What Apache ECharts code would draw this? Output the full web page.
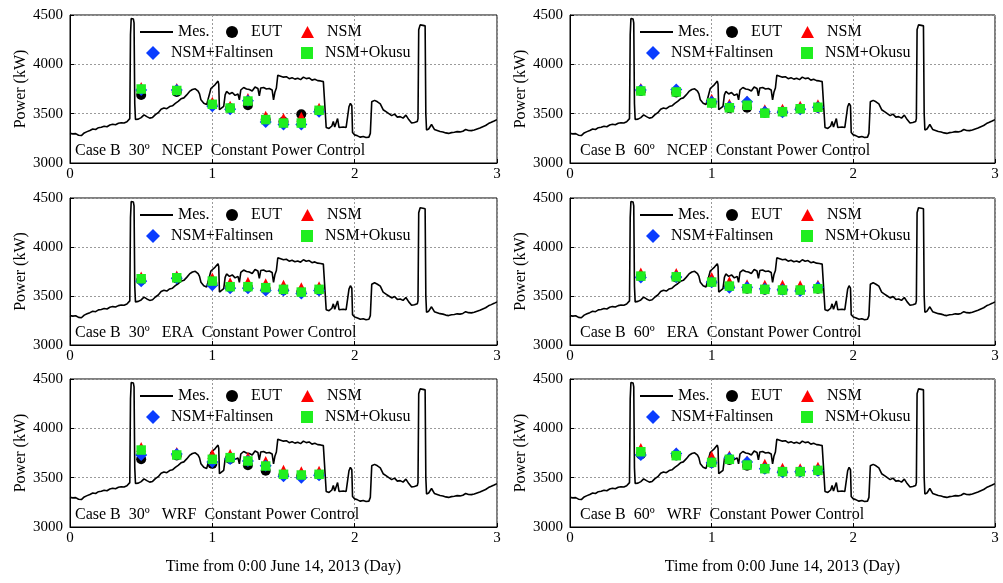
<!DOCTYPE html>
<html>
<head>
<meta charset="utf-8">
<script src="https://cdn.jsdelivr.net/npm/echarts@6/dist/echarts.min.js"></script>
<style>
  html, body { margin: 0; padding: 0; background: #fff; }
  #chart { width: 1003px; height: 583px; }
</style>
</head>
<body>
<div id="chart"></div>
<script>
// Measured power trace (day, kW) — shared by every panel
const mesDay = [
  0.00, 0.02, 0.04, 0.06, 0.08, 0.10, 0.12, 0.14, 0.16, 0.18,
  0.20, 0.22, 0.24, 0.26, 0.28, 0.30, 0.32, 0.34, 0.36, 0.38,
  0.40, 0.41, 0.42, 0.425, 0.43, 0.445, 0.45, 0.455, 0.46, 0.47,
  0.48, 0.50, 0.52, 0.53, 0.54, 0.56, 0.58, 0.60, 0.62, 0.64,
  0.66, 0.68, 0.70, 0.72, 0.74, 0.76, 0.78, 0.80, 0.82, 0.84,
  0.86, 0.88, 0.90, 0.91, 0.92, 0.94, 0.96, 0.97, 0.98, 0.99,
  1.00, 1.02, 1.03, 1.04, 1.045, 1.05, 1.06, 1.08, 1.09, 1.10,
  1.12, 1.14, 1.16, 1.18, 1.19, 1.20, 1.22, 1.24, 1.26, 1.28,
  1.30, 1.32, 1.33, 1.34, 1.36, 1.38, 1.40, 1.42, 1.43, 1.44,
  1.45, 1.46, 1.48, 1.50, 1.52, 1.54, 1.56, 1.58, 1.60, 1.62,
  1.64, 1.66, 1.68, 1.70, 1.72, 1.74, 1.76, 1.78, 1.79, 1.80,
  1.82, 1.84, 1.85, 1.86, 1.88, 1.89, 1.90, 1.92, 1.94, 1.95,
  1.96, 1.97, 1.98, 1.985, 1.99, 2.00, 2.02, 2.04, 2.06, 2.08,
  2.10, 2.11, 2.12, 2.14, 2.16, 2.18, 2.20, 2.22, 2.24, 2.26,
  2.28, 2.30, 2.32, 2.34, 2.36, 2.38, 2.40, 2.42, 2.44, 2.445,
  2.45, 2.46, 2.48, 2.495, 2.50, 2.505, 2.52, 2.54, 2.56, 2.58,
  2.60, 2.62, 2.64, 2.66, 2.68, 2.70, 2.72, 2.74, 2.76, 2.78,
  2.80, 2.82, 2.84, 2.86, 2.88, 2.90, 2.92, 2.94, 2.96, 2.98,
  3.00
];
const mesPower = [
  3300, 3295, 3298, 3282, 3278, 3305, 3318, 3330, 3345, 3340,
  3358, 3362, 3372, 3368, 3385, 3392, 3388, 3402, 3408, 3405,
  3418, 3425, 3450, 4300, 4465, 4460, 4420, 3600, 3440, 3435,
  3445, 3460, 3488, 3495, 3470, 3455, 3462, 3490, 3510, 3545,
  3558, 3550, 3572, 3580, 3605, 3625, 3650, 3660, 3690, 3725,
  3745, 3752, 3728, 3700, 3640, 3605, 3592, 3600, 3700, 3755,
  3770, 3795, 3780, 3830, 3800, 3540, 3555, 3575, 3690, 3725,
  3700, 3715, 3685, 3700, 3640, 3740, 3765, 3750, 3745, 3730,
  3770, 3755, 3680, 3760, 3765, 3750, 3755, 3740, 3640, 3720,
  3760, 3890, 3880, 3870, 3875, 3855, 3865, 3850, 3858, 3845,
  3870, 3855, 3862, 3840, 3848, 3835, 3832, 3825, 3810, 3360,
  3350, 3375, 3420, 3365, 3450, 3360, 3375, 3365, 3360, 3360,
  3570, 3605, 3580, 3310, 3290, 3285, 3275, 3262, 3268, 3258,
  3262, 3300, 3620, 3635, 3620, 3600, 3540, 3520, 3500, 3480,
  3495, 3465, 3470, 3455, 3485, 3440, 3405, 3410, 3420, 3450,
  4350, 4400, 4395, 4390, 3500, 3335, 3345, 3390, 3340, 3330,
  3320, 3315, 3305, 3300, 3308, 3312, 3318, 3315, 3322, 3340,
  3330, 3328, 3335, 3345, 3355, 3368, 3380, 3400, 3412, 3425,
  3440
];

// Simulation run times (day)
const runDays = [0.5, 0.75, 1.0, 1.125, 1.25, 1.375, 1.5, 1.625, 1.75];

// 30º NCEP
const eut30NCEP  = [3690, 3720, 3590, 3555, 3585, 3440, 3420, 3493, 3530];
const nsm30NCEP  = [3770, 3760, 3620, 3580, 3660, 3480, 3455, 3470, 3560];
const falt30NCEP = [3740, 3740, 3575, 3545, 3630, 3415, 3390, 3390, 3520];
const oku30NCEP  = [3750, 3735, 3595, 3557, 3628, 3440, 3405, 3405, 3534];
// 60º NCEP
const eut60NCEP  = [3730, 3715, 3610, 3555, 3560, 3510, 3520, 3550, 3560];
const nsm60NCEP  = [3760, 3745, 3650, 3600, 3630, 3545, 3550, 3580, 3595];
const falt60NCEP = [3740, 3745, 3620, 3570, 3620, 3520, 3515, 3545, 3565];
const oku60NCEP  = [3730, 3720, 3608, 3560, 3585, 3505, 3520, 3550, 3565];
// 30º ERA
const eut30ERA   = [3660, 3680, 3630, 3590, 3590, 3570, 3560, 3540, 3560];
const nsm30ERA   = [3700, 3710, 3690, 3640, 3645, 3630, 3615, 3590, 3600];
const falt30ERA  = [3650, 3680, 3610, 3580, 3580, 3555, 3555, 3525, 3555];
const oku30ERA   = [3676, 3686, 3652, 3595, 3595, 3585, 3568, 3540, 3568];
// 60º ERA
const eut60ERA   = [3700, 3690, 3640, 3600, 3575, 3565, 3560, 3560, 3575];
const nsm60ERA   = [3740, 3735, 3695, 3650, 3620, 3615, 3615, 3610, 3615];
const falt60ERA  = [3690, 3695, 3640, 3585, 3590, 3575, 3565, 3550, 3590];
const oku60ERA   = [3703, 3696, 3642, 3601, 3574, 3568, 3561, 3561, 3574];
// 30º WRF
const eut30WRF   = [3686, 3725, 3640, 3690, 3625, 3570, 3530, 3520, 3530];
const nsm30WRF   = [3810, 3760, 3740, 3740, 3710, 3670, 3580, 3565, 3570];
const falt30WRF  = [3730, 3740, 3660, 3690, 3670, 3620, 3515, 3500, 3525];
const oku30WRF   = [3780, 3730, 3686, 3703, 3669, 3618, 3534, 3527, 3534];
// 60º WRF
const eut60WRF   = [3735, 3725, 3650, 3680, 3620, 3590, 3560, 3560, 3570];
const nsm60WRF   = [3800, 3755, 3720, 3725, 3675, 3640, 3600, 3595, 3610];
const falt60WRF  = [3730, 3745, 3650, 3700, 3660, 3590, 3555, 3560, 3570];
const oku60WRF   = [3763, 3723, 3655, 3686, 3628, 3591, 3561, 3561, 3574];

const panelLabels = [
  'Case B  30º   NCEP  Constant Power Control',
  'Case B  60º   NCEP  Constant Power Control',
  'Case B  30º   ERA  Constant Power Control',
  'Case B  60º   ERA  Constant Power Control',
  'Case B  30º   WRF  Constant Power Control',
  'Case B  60º   WRF  Constant Power Control'
];
const panelSets = [
  [eut30NCEP, nsm30NCEP, falt30NCEP, oku30NCEP],
  [eut60NCEP, nsm60NCEP, falt60NCEP, oku60NCEP],
  [eut30ERA,  nsm30ERA,  falt30ERA,  oku30ERA],
  [eut60ERA,  nsm60ERA,  falt60ERA,  oku60ERA],
  [eut30WRF,  nsm30WRF,  falt30WRF,  oku30WRF],
  [eut60WRF,  nsm60WRF,  falt60WRF,  oku60WRF]
];

const yTicks = [3000, 3500, 4000, 4500];
const xTicks = [0, 1, 2, 3];
const xTitle = 'Time from 0:00 June 14, 2013 (Day)';
const yTitle = 'Power (kW)';

const FONT = 'Liberation Serif';
const markers = [
  { name: 'EUT',           symbol: 'circle',   size: 10, color: '#000000' },
  { name: 'NSM',           symbol: 'triangle', size: 10, color: '#ff0000' },
  { name: 'NSM+Faltinsen', symbol: 'diamond',  size: 12, color: '#0a3cff' },
  { name: 'NSM+Okusu',     symbol: 'rect',     size: 9.5, color: '#1fee1f' }
];

const colLeft = [70, 570];
const colWidth = [427, 425];
const rowTop = [15, 198, 379];
const rowHeight = [148, 147, 148];

const grids = [], xAxes = [], yAxes = [], series = [], legends = [], titles = [];

for (let p = 0; p < 6; p++) {
  const r = Math.floor(p / 2), c = p % 2;
  const gl = colLeft[c], gt = rowTop[r], gw = colWidth[c], gh = rowHeight[r];
  grids.push({ left: gl, top: gt, width: gw, height: gh, show: true,
               borderColor: '#000', borderWidth: 1, backgroundColor: 'transparent' });

  xAxes.push({
    type: 'value', gridIndex: p, min: xTicks[0], max: xTicks[xTicks.length - 1], interval: 1,
    axisLine: { show: true, lineStyle: { color: '#000', width: 1 } },
    axisTick: { show: true, inside: true, length: 4, lineStyle: { color: '#000' } },
    axisLabel: { color: '#000', fontFamily: FONT, fontSize: 15, margin: 4, formatter: (v) => String(v) },
    splitLine: { show: true, lineStyle: { color: '#9a9a9a', type: [2, 2], width: 1 } },
    name: r === 2 ? xTitle : '', nameLocation: 'middle', nameGap: 32,
    nameTextStyle: { color: '#000', fontFamily: FONT, fontSize: 16 }
  });
  yAxes.push({
    type: 'value', gridIndex: p, min: yTicks[0], max: yTicks[yTicks.length - 1], interval: 500,
    axisLine: { show: true, lineStyle: { color: '#000', width: 1 } },
    axisTick: { show: true, inside: true, length: 4, lineStyle: { color: '#000' } },
    axisLabel: { color: '#000', fontFamily: FONT, fontSize: 15, margin: 7, formatter: (v) => String(v) },
    splitLine: { show: true, lineStyle: { color: '#9a9a9a', type: [2, 2], width: 1 } },
    name: yTitle, nameLocation: 'middle', nameGap: 38,
    nameTextStyle: { color: '#000', fontFamily: FONT, fontSize: 16 }
  });

  series.push({
    name: 'Mes.', type: 'line', xAxisIndex: p, yAxisIndex: p,
    data: mesDay.map((d, i) => [d, mesPower[i]]),
    symbol: 'none', showSymbol: false, lineStyle: { color: '#000', width: 1.6 }, itemStyle: { color: '#000' },
    animation: false, z: 2
  });
  panelSets[p].forEach((vals, k) => {
    const m = markers[k];
    series.push({
      name: m.name, type: 'scatter', xAxisIndex: p, yAxisIndex: p,
      data: runDays.map((d, i) => [d, vals[i]]),
      symbol: m.symbol, symbolSize: m.size,
      itemStyle: { color: m.color, opacity: 1 },
      animation: false, z: 3 + k
    });
  });

  // legend entries laid out in two rows inside each plot
  const textStyle = (pad) => ({ color: '#000', fontFamily: FONT, fontSize: 16, padding: [0, 0, 0, pad] });
  const row1 = gt + 17 - 8, row2 = gt + 38 - 8;
  legends.push({ data: [{ name: 'Mes.', icon: 'rect' }], left: gl + 70, top: row1, itemWidth: 33, itemHeight: 2,
                 padding: 0, selectedMode: false, textStyle: textStyle(0),
                 itemStyle: { color: '#000' } });
  legends.push({ data: [{ name: 'EUT', icon: 'circle' }], left: gl + 156, top: row1,
                 itemWidth: 12, itemHeight: 12, padding: 0, selectedMode: false, textStyle: textStyle(8) });
  legends.push({ data: [{ name: 'NSM', icon: 'triangle' }], left: gl + 231, top: row1,
                 itemWidth: 13, itemHeight: 12, padding: 0, selectedMode: false, textStyle: textStyle(8) });
  legends.push({ data: [{ name: 'NSM+Faltinsen', icon: 'diamond' }], left: gl + 76, top: row2,
                 itemWidth: 14, itemHeight: 14, padding: 0, selectedMode: false, textStyle: textStyle(6) });
  legends.push({ data: [{ name: 'NSM+Okusu', icon: 'rect' }], left: gl + 231, top: row2,
                 itemWidth: 12, itemHeight: 12, padding: 0, selectedMode: false, textStyle: textStyle(7) });

  titles.push({ text: panelLabels[p], left: gl + 5 + c * 5, top: gt + gh - 20, padding: 0,
                textStyle: { color: '#000', fontFamily: FONT, fontSize: 16, fontWeight: 'normal' } });
}

const chart = echarts.init(document.getElementById('chart'), null, { renderer: 'canvas' });
chart.setOption({
  animation: false,
  backgroundColor: '#fff',
  title: titles,
  legend: legends,
  grid: grids,
  xAxis: xAxes,
  yAxis: yAxes,
  series: series
});
</script>
</body>
</html>
